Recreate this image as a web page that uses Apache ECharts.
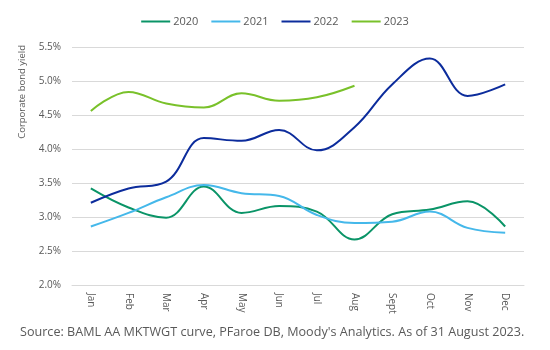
<!DOCTYPE html>
<html>
<head>
<meta charset="utf-8">
<script src="https://cdn.jsdelivr.net/npm/echarts@6/dist/echarts.min.js"></script>
<style>
  html, body { margin: 0; padding: 0; background: #fff; }
  #chart { width: 550px; height: 350px; }
</style>
</head>
<body>
<div id="chart"></div>
<script>
const months = ['Jan', 'Feb', 'Mar', 'Apr', 'May', 'Jun', 'Jul', 'Aug', 'Sept', 'Oct', 'Nov', 'Dec'];
const y2020 = [3.42, 3.14, 2.99, 3.45, 3.06, 3.16, 3.08, 2.67, 3.04, 3.11, 3.23, 2.86];
const y2021 = [2.86, 3.06, 3.29, 3.47, 3.35, 3.31, 3.03, 2.91, 2.93, 3.08, 2.84, 2.77];
const y2022 = [3.21, 3.42, 3.52, 4.16, 4.12, 4.28, 3.98, 4.32, 4.95, 5.33, 4.78, 4.95];
const y2023 = [4.56, 4.84, 4.67, 4.61, 4.82, 4.71, 4.76, 4.93];
const sourceNote = "Source: BAML AA MKTWGT curve, PFaroe DB, Moody's Analytics. As of 31 August 2023.";

const chart = echarts.init(document.getElementById('chart'));
const font = 'Open Sans';

function line(name, data, color) {
  return {
    name: name,
    type: 'line',
    data: data,
    smooth: 0.4,
    symbol: 'none',
    lineStyle: { width: 2, color: color },
    itemStyle: { color: color }
  };
}

chart.setOption({
  animation: false,
  legend: {
    top: 11,
    left: 'center',
    itemWidth: 29,
    itemHeight: 2,
    itemGap: 13,
    icon: 'rect',
    textStyle: { color: '#595959', fontSize: 11, fontFamily: font, padding: [0, 0, 0, -2] }
  },
  grid: { left: 72, right: 26, top: 47, bottom: 65 },
  xAxis: {
    type: 'category',
    data: months,
    axisLine: { lineStyle: { color: '#d9d9d9' } },
    axisTick: { show: false },
    axisLabel: { rotate: -90, color: '#595959', fontSize: 10, fontFamily: font, margin: 8 }
  },
  yAxis: {
    type: 'value',
    min: 2,
    max: 5.5,
    interval: 0.5,
    axisLine: { show: false },
    axisTick: { show: false },
    splitLine: { lineStyle: { color: '#d9d9d9' } },
    axisLabel: {
      color: '#595959', fontSize: 10, fontFamily: font, margin: 11,
      formatter: v => v.toFixed(1) + '%'
    }
  },
  graphic: [
    {
      type: 'text', left: 17, top: 45, rotation: Math.PI / 2,
      style: { text: 'Corporate bond yield', fill: '#595959', fontSize: 9.5, fontFamily: font }
    },
    {
      type: 'text', left: 20, top: 326,
      style: { text: sourceNote, fill: '#595959', fontSize: 12.6, fontFamily: font }
    }
  ],
  series: [
    line('2020', y2020, '#0a9467'),
    line('2021', y2021, '#45b8ea'),
    line('2022', y2022, '#0c2c9c'),
    line('2023', y2023, '#79c12a')
  ]
});
</script>
</body>
</html>
